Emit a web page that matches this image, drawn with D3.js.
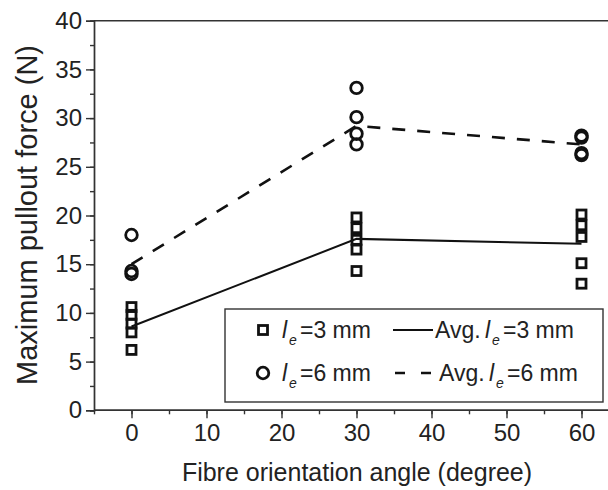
<!DOCTYPE html>
<html>
<head>
<meta charset="utf-8">
<script src="https://cdn.jsdelivr.net/npm/d3@7"></script>
<style>
  body { margin: 0; background: #fff; }
  text { font-family: "Liberation Sans", Arial, sans-serif; fill: #222; }
</style>
</head>
<body>
<div id="chart"></div>
<script>
// data
var angles = [0, 30, 60];
var le3Points = [
  [10.6, 9.8, 8.9, 8.0, 6.2],
  [19.8, 18.7, 17.5, 16.5, 14.3],
  [20.1, 19.0, 17.8, 15.1, 13.0]
];
var le6Points = [
  [18.0, 14.3, 14.0],
  [33.1, 30.1, 28.4, 27.3],
  [28.2, 28.0, 26.4, 26.2]
];
var avgLe3 = [8.6, 17.6, 17.1];
var avgLe6 = [15.0, 29.2, 27.3];
var xTicks = [0, 10, 20, 30, 40, 50, 60];
var yTicks = [0, 5, 10, 15, 20, 25, 30, 35, 40];

var width = 608, height = 490;
var ink = '#333';

var x = d3.scaleLinear().domain([-5, 65]).range([94, 619]);
var y = d3.scaleLinear().domain([0, 40]).range([410.3, 20.7]);

var svg = d3.select('#chart').append('svg')
  .attr('width', width)
  .attr('height', height)
  .attr('viewBox', '0 0 ' + width + ' ' + height);

svg.append('rect').attr('width', width).attr('height', height).attr('fill', '#fff');

// top frame line
svg.append('line')
  .attr('x1', x(-5)).attr('x2', x(65))
  .attr('y1', y(40)).attr('y2', y(40))
  .attr('stroke', ink).attr('stroke-width', 1.4);

// x axis, major + minor ticks
var xAxis = svg.append('g').attr('transform', 'translate(0,' + y(0) + ')');
xAxis.call(d3.axisBottom(x).tickValues(d3.range(-5, 66, 5)).tickSize(4).tickFormat(''));
xAxis.call(function(g) {
  g.append('g').call(d3.axisBottom(x).tickValues(xTicks).tickSize(8).tickPadding(6));
});
xAxis.selectAll('path').attr('stroke', ink).attr('stroke-width', 1.4);
xAxis.selectAll('line').attr('stroke', ink).attr('stroke-width', 1.4);
xAxis.selectAll('path.domain').attr('d', 'M' + x(-5) + ',0H' + x(65));
xAxis.selectAll('text')
  .attr('fill', '#222')
  .style('font-size', '24px')
  .style('font-family', '"Liberation Sans", Arial, sans-serif');

// y axis
var yAxis = svg.append('g').attr('transform', 'translate(' + x(-5) + ',0)');
yAxis.call(d3.axisLeft(y).tickValues(d3.range(0, 41, 2.5)).tickSize(4).tickFormat(''));
yAxis.call(function(g) {
  g.append('g').call(d3.axisLeft(y).tickValues(yTicks).tickSize(8).tickPadding(4));
});
yAxis.selectAll('path').attr('stroke', ink).attr('stroke-width', 1.4);
yAxis.selectAll('line').attr('stroke', ink).attr('stroke-width', 1.4);
yAxis.selectAll('text')
  .attr('fill', '#222')
  .style('font-size', '24px')
  .style('font-family', '"Liberation Sans", Arial, sans-serif');

// axis titles
svg.append('text')
  .attr('x', 357).attr('y', 481)
  .attr('text-anchor', 'middle')
  .style('font-size', '25px')
  .text('Fibre orientation angle (degree)');

svg.append('text')
  .attr('transform', 'translate(37,' + 215 + ') rotate(-90)')
  .attr('text-anchor', 'middle')
  .style('font-size', '29px')
  .text('Maximum pullout force (N)');

// average lines
var line = d3.line()
  .x(function(d, i) { return x(angles[i]); })
  .y(function(d) { return y(d); });

svg.append('path')
  .datum(avgLe3)
  .attr('d', line)
  .attr('fill', 'none')
  .attr('stroke', '#111')
  .attr('stroke-width', 2);

svg.append('path')
  .datum(avgLe6)
  .attr('d', line)
  .attr('fill', 'none')
  .attr('stroke', '#111')
  .attr('stroke-width', 2.6)
  .attr('stroke-dasharray', '13,12');

// flatten points
var pts3 = [], pts6 = [];
le3Points.forEach(function(vals, i) {
  vals.forEach(function(v) { pts3.push({a: angles[i], v: v}); });
});
le6Points.forEach(function(vals, i) {
  vals.forEach(function(v) { pts6.push({a: angles[i], v: v}); });
});

var sq = 9, cr = 5.8;
svg.append('g').selectAll('rect')
  .data(pts3)
  .enter().append('rect')
  .attr('x', function(d) { return x(d.a) - sq / 2; })
  .attr('y', function(d) { return y(d.v) - sq / 2; })
  .attr('width', sq).attr('height', sq)
  .attr('fill', 'none')
  .attr('stroke', '#111')
  .attr('stroke-width', 2.8);

svg.append('g').selectAll('circle')
  .data(pts6)
  .enter().append('circle')
  .attr('cx', function(d) { return x(d.a); })
  .attr('cy', function(d) { return y(d.v); })
  .attr('r', cr)
  .attr('fill', 'none')
  .attr('stroke', '#111')
  .attr('stroke-width', 2.8);

// legend
var lg = svg.append('g');
lg.append('rect')
  .attr('x', 225).attr('y', 309)
  .attr('width', 378).attr('height', 93)
  .attr('fill', '#fff')
  .attr('stroke', ink)
  .attr('stroke-width', 1.4);

// italic l with subscript e, then the rest of the label
function leLabel(g, xl, yb, txt) {
  g.append('text').attr('x', xl).attr('y', yb)
    .style('font-size', '23px').style('font-style', 'italic').text('l');
  g.append('text').attr('x', xl + 7).attr('y', yb + 7)
    .style('font-size', '14px').style('font-style', 'italic').text('e');
  g.append('text').attr('x', xl + 18).attr('y', yb)
    .style('font-size', '23px')
    .text(txt);
}

var rows = [
  {y: 330, mm: '=3 mm', avgX: 435, lX: 485},
  {y: 373, mm: '=6 mm', avgX: 439, lX: 489}
];

lg.append('rect')
  .attr('x', 263 - sq / 2).attr('y', rows[0].y - sq / 2)
  .attr('width', sq).attr('height', sq)
  .attr('fill', 'none').attr('stroke', '#111').attr('stroke-width', 2.8);
lg.append('circle')
  .attr('cx', 263).attr('cy', rows[1].y).attr('r', cr)
  .attr('fill', 'none').attr('stroke', '#111').attr('stroke-width', 2.8);

lg.append('line')
  .attr('x1', 393).attr('x2', 433)
  .attr('y1', rows[0].y).attr('y2', rows[0].y)
  .attr('stroke', '#111').attr('stroke-width', 2);
lg.append('line')
  .attr('x1', 395).attr('x2', 431)
  .attr('y1', rows[1].y).attr('y2', rows[1].y)
  .attr('stroke', '#111').attr('stroke-width', 2.6)
  .attr('stroke-dasharray', '10,16');

rows.forEach(function(r) {
  leLabel(lg, 282, r.y + 8, r.mm);
  lg.append('text').attr('x', r.avgX).attr('y', r.y + 8)
    .style('font-size', '23px').text('Avg.');
  leLabel(lg, r.lX, r.y + 8, r.mm);
});
</script>
</body>
</html>
